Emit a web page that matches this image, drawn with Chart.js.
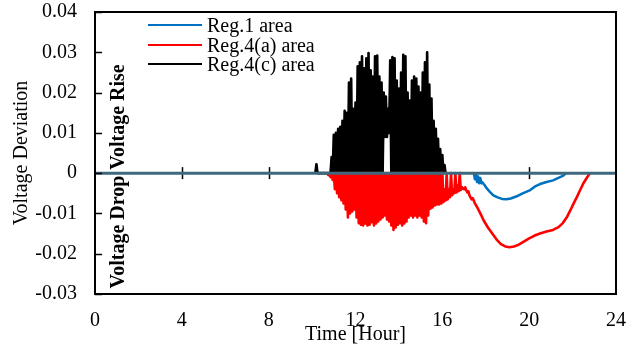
<!DOCTYPE html>
<html>
<head>
<meta charset="utf-8">
<script src="https://cdn.jsdelivr.net/npm/chart.js@4.4.1/dist/chart.umd.min.js"></script>
<style>
html,body{margin:0;padding:0;background:#fff;}
#wrap{position:relative;width:639px;height:344px;}
</style>
</head>
<body>
<div id="wrap"><canvas id="c" width="639" height="344"></canvas></div>
<script>
// ---- data ----
const seriesLabels = ['Reg.1 area', 'Reg.4(a) area', 'Reg.4(c) area'];
const yTickLabels = ['-0.03', '-0.02', '-0.01', '0', '0.01', '0.02', '0.03', '0.04'];
const xTickLabels = ['0', '4', '8', '12', '16', '20', '24'];

const reg1Hours = [17.45,17.50,17.55,17.60,17.65,17.70,17.75,17.80,17.85,17.95,18.05,18.20,18.35,18.55,18.75,18.95,19.15,19.40,19.70,20.05,20.30,20.50,20.80,21.10,21.35,21.55,21.70];
const reg1Values = [0,-0.0015,-0.0004,-0.0022,-0.0008,-0.0025,-0.0012,-0.0025,-0.0023,-0.0030,-0.0038,-0.0047,-0.0055,-0.0060,-0.0064,-0.0065,-0.0063,-0.0058,-0.0050,-0.0042,-0.0032,-0.0027,-0.0022,-0.0018,-0.0012,-0.0007,0];

const reg4aHours = [10.70,10.75,10.80,10.85,10.90,10.95,11.00,11.05,11.10,11.15,11.20,11.25,11.30,11.35,11.40,11.45,11.50,11.55,11.60,11.65,11.70,11.75,11.80,11.85,11.90,11.95,
12.00,12.05,12.10,12.15,12.20,12.25,12.30,12.35,12.40,12.45,12.50,12.55,12.60,12.65,12.70,12.75,12.80,12.85,12.90,12.95,
13.00,13.05,13.10,13.15,13.20,13.25,13.30,13.35,13.40,13.45,13.50,13.55,13.60,13.65,13.70,13.75,13.80,13.85,13.90,13.95,
14.00,14.05,14.10,14.15,14.20,14.25,14.30,14.35,14.40,14.45,14.50,14.55,14.60,14.65,14.70,14.75,14.80,14.85,14.90,14.95,
15.00,15.05,15.10,15.15,15.20,15.25,15.30,15.35,15.40,15.45,15.50,15.55,15.60,15.65,15.70,15.75,15.80,15.85,15.90,15.95,
16.00,16.05,16.10,16.15,16.20,16.25,16.30,16.35,16.40,16.45,16.50,16.55,16.60,16.65,16.70,16.75,16.80,16.85,16.90,16.95,
17.00,17.05,17.10,17.15,17.20,17.25,17.30,17.35,17.40,17.50,17.60,17.75,17.90,18.10,18.30,18.50,18.70,18.90,19.10,19.30,19.50,19.75,
20.00,20.25,20.50,20.80,21.10,21.35,21.55,21.75,21.90,22.05,22.20,22.35,22.50,22.65,22.80];
const reg4aValues = [0,-0.0005,0,-0.001,0,-0.0017,0,-0.004,0,-0.005,0,-0.006,0,-0.0067,0,-0.0075,0,-0.009,0,-0.011,0,-0.010,0,-0.0095,0,-0.009,
0,-0.011,0,-0.0124,0,-0.0128,0,-0.013,0,-0.0125,0,-0.013,0,-0.0128,0,-0.0122,0,-0.013,0,-0.0125,
0,-0.012,0,-0.0115,0,-0.011,0,-0.0105,0,-0.0115,0,-0.012,0,-0.013,0,-0.0141,0,-0.0135,0,-0.0128,
0,-0.0124,0,-0.013,0,-0.0125,0,-0.012,0,-0.011,0,-0.0105,0,-0.011,0,-0.0105,0,-0.011,0,-0.0105,
0,-0.011,0,-0.012,0,-0.0124,0,-0.0105,0,-0.0088,0,-0.0085,0,-0.008,0,-0.0078,0,-0.0078,0,-0.0075,
0,-0.0072,-0.004,-0.0068,0,-0.0065,-0.004,-0.006,0,-0.0055,-0.004,-0.005,0,-0.0048,-0.003,-0.0045,0,-0.0042,-0.0035,-0.0038,
-0.0040,-0.0035,-0.0042,-0.0048,-0.0045,-0.0055,-0.0060,-0.0065,-0.0062,-0.0075,-0.0084,-0.0100,-0.0117,-0.0135,-0.0150,-0.0165,-0.0176,-0.0182,-0.0184,-0.0182,-0.0178,-0.0170,
-0.0162,-0.0155,-0.0150,-0.0145,-0.0141,-0.0134,-0.0124,-0.0108,-0.0092,-0.0075,-0.0059,-0.0042,-0.0025,-0.0012,0];

const reg4cHours = [10.15,10.20,10.25,10.85,10.90,10.95,11.00,11.05,11.10,11.15,11.20,11.25,11.30,11.35,11.40,11.45,11.50,11.55,11.60,11.65,11.70,11.75,11.80,11.85,11.90,11.95,
12.00,12.05,12.10,12.15,12.20,12.25,12.30,12.35,12.40,12.45,12.50,12.55,12.60,12.65,12.70,12.75,12.80,12.85,12.90,12.95,
13.00,13.05,13.10,13.15,13.20,13.25,13.30,13.35,13.40,13.45,13.50,13.55,13.60,13.65,13.70,13.75,13.80,13.85,13.90,13.95,
14.00,14.05,14.10,14.15,14.20,14.25,14.30,14.35,14.40,14.45,14.50,14.55,14.60,14.65,14.70,14.75,14.80,14.85,14.90,14.95,
15.00,15.05,15.10,15.15,15.20,15.25,15.30,15.35,15.40,15.45,15.50,15.55,15.60,15.65,15.70,15.75,15.80,15.85,15.90,15.95,
16.00,16.05,16.10,16.15];
const reg4cValues = [0,0.0022,0,0,0.004,0,0.0095,0,0.010,0,0.011,0,0.0115,0,0.013,0,0.0155,0,0.0150,0,0.0225,0,0.0235,0,0.0160,0,
0.0175,0,0.0265,0,0.0275,0,0.0290,0,0.0260,0,0.0285,0,0.0298,0,0.0255,0,0.0240,0,0.0290,0,
0.0292,0,0.0240,0,0.0225,0,0.0200,0.009,0.0190,0.009,0.0160,0.010,0.0280,0,0.0288,0,0.0285,0,0.0230,0,
0.0210,0,0.0250,0,0.0294,0,0.0290,0,0.0200,0,0.0180,0,0.0230,0,0.0240,0,0.0235,0,0.0215,0,
0.0200,0,0.0250,0,0.0275,0,0.0300,0,0.0220,0,0.0185,0,0.0130,0,0.0110,0,0.0085,0,0.0060,0,
0.0045,0,0.0020,0];

const seriesColors = ['#0070C0', '#FF0000', '#000000'];
// ---------------------------------------

const toPts = (hs, vs) => hs.map((h, i) => ({x: h, y: vs[i]}));
const FONT = "'Liberation Serif','Times New Roman',serif";

const overlay = {
  id: 'overlay',
  beforeDatasetsDraw(chart) {
    const {ctx, chartArea: a, scales: {x, y}} = chart;
    ctx.save();
    const y0 = y.getPixelForValue(0);
    ctx.strokeStyle = '#000'; ctx.lineWidth = 1.5;
    xTickLabels.forEach(t => {
      const v = Number(t);
      if (v <= 0 || v >= 24) return;
      const px = Math.round(x.getPixelForValue(v)) + 0.5;
      ctx.beginPath(); ctx.moveTo(px, y0 - 6); ctx.lineTo(px, y0 + 6); ctx.stroke();
    });
    ctx.restore();
  },
  afterDatasetsDraw(chart) {
    const {ctx, chartArea: a, scales: {x, y}} = chart;
    ctx.save();
    // zero line
    const y0 = y.getPixelForValue(0);
    ctx.strokeStyle = '#3e687c';
    ctx.lineWidth = 3;
    ctx.beginPath(); ctx.moveTo(a.left, y0); ctx.lineTo(a.right, y0); ctx.stroke();
    // y ticks inward
    ctx.strokeStyle = '#000'; ctx.lineWidth = 1.5;
    yTickLabels.forEach(t => {
      const py = Math.round(y.getPixelForValue(Number(t))) + 0.5;
      ctx.beginPath(); ctx.moveTo(a.left, py); ctx.lineTo(a.left + 7, py); ctx.stroke();
    });
    // box
    ctx.lineWidth = 2;
    ctx.strokeRect(a.left, a.top, a.right - a.left, a.bottom - a.top);
    // legend
    const ly = [25, 45, 64];
    ctx.font = '20px ' + FONT;
    ctx.textBaseline = 'middle';
    ctx.textAlign = 'left';
    chart.data.datasets.forEach((ds, i) => {
      ctx.strokeStyle = ds.borderColor; ctx.lineWidth = 2;
      ctx.beginPath(); ctx.moveTo(148, ly[i]); ctx.lineTo(202, ly[i]); ctx.stroke();
      ctx.fillStyle = '#000';
      ctx.fillText(ds.label, 207, ly[i] + 2);
    });
    // rotated bold annotations
    ctx.font = 'bold 20px ' + FONT;
    ctx.textAlign = 'center';
    ctx.save(); ctx.translate(119, 117); ctx.rotate(-Math.PI / 2); ctx.fillText('Voltage Rise', 0, 0); ctx.restore();
    ctx.save(); ctx.translate(119, 232); ctx.rotate(-Math.PI / 2); ctx.fillText('Voltage Drop', 0, 0); ctx.restore();
    ctx.restore();
  }
};

new Chart(document.getElementById('c'), {
  type: 'line',
  data: {
    datasets: [
      {label: seriesLabels[0], data: toPts(reg1Hours, reg1Values), borderColor: seriesColors[0], borderWidth: 2.5},
      {label: seriesLabels[1], data: toPts(reg4aHours, reg4aValues), borderColor: seriesColors[1], borderWidth: 2.6},
      {label: seriesLabels[2], data: toPts(reg4cHours, reg4cValues), borderColor: seriesColors[2], borderWidth: 2.6}
    ]
  },
  options: {
    responsive: false,
    animation: false,
    events: [],
    elements: {point: {radius: 0}, line: {tension: 0, borderJoinStyle: 'round'}},
    layout: {padding: {left: 0, top: 12, right: 23, bottom: 0}},
    plugins: {legend: {display: false}, tooltip: {enabled: false}},
    scales: {
      x: {
        type: 'linear', min: 0, max: 24,
        afterFit(s) { s.height = 50; s.paddingLeft = 0; s.paddingRight = 0; },
        afterBuildTicks(s) { s.ticks = xTickLabels.map(t => ({value: Number(t)})); },
        grid: {display: false, drawTicks: false},
        border: {display: false},
        ticks: {padding: 15, color: '#000', font: {family: FONT, size: 20}, maxRotation: 0,
          callback: (v, i) => xTickLabels[i]},
        title: {display: true, text: 'Time [Hour]', color: '#000', font: {family: FONT, size: 20}, padding: {top: 0, bottom: -3}}
      },
      y: {
        type: 'linear', min: -0.03, max: 0.04,
        afterFit(s) { s.width = 95; s.paddingTop = 0; s.paddingBottom = 0; },
        afterBuildTicks(s) { s.ticks = yTickLabels.map(t => ({value: Number(t)})); },
        grid: {display: false, drawTicks: false},
        border: {display: false},
        ticks: {padding: 18, color: '#000', font: {family: FONT, size: 20},
          callback: (v, i) => yTickLabels[i]},
        title: {display: true, text: 'Voltage Deviation', color: '#000', font: {family: FONT, size: 20}, padding: {top: 10, bottom: 0}}
      }
    }
  },
  plugins: [overlay]
});
</script>
</body>
</html>
